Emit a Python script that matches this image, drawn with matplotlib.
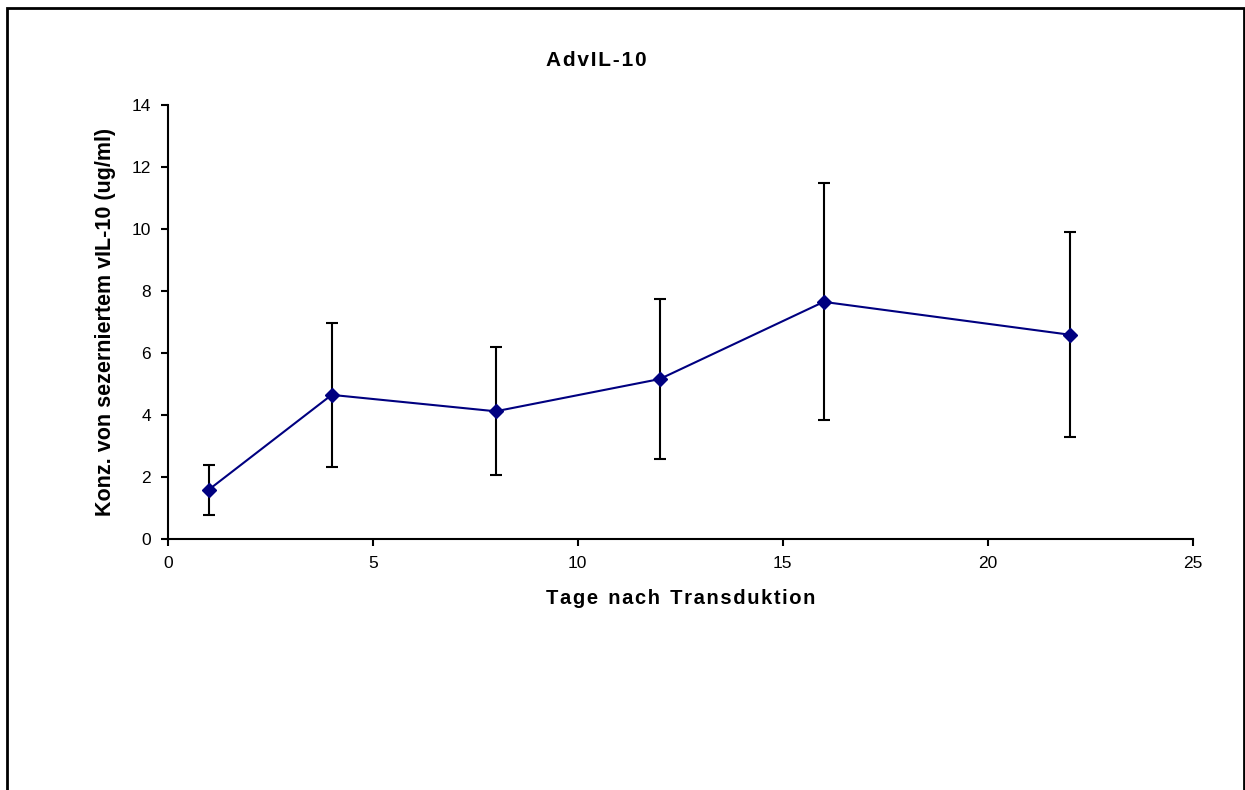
import matplotlib
matplotlib.use("Agg")
import matplotlib.pyplot as plt
from matplotlib.patches import Rectangle

plt.rcParams['font.family'] = ['Liberation Sans', 'DejaVu Sans']

# data
tage = [1, 4, 8, 12, 16, 22]
konz = [1.60, 4.66, 4.13, 5.17, 7.66, 6.60]
fehler = [0.80, 2.33, 2.06, 2.57, 3.82, 3.30]
xticks = [0, 5, 10, 15, 20, 25]
yticks = [0, 2, 4, 6, 8, 10, 12, 14]


def gesperrt(s):
    # Excel-like letter spacing
    return '\u200a'.join(s).replace('\u200a \u200a', '\u2002')


fig = plt.figure(figsize=(12.45, 7.9), dpi=100)
ax = fig.add_axes([0.1347, 0.3173, 0.8233, 0.5494])

# outer frame of the chart area (bottom runs off the picture)
fig.patches.append(Rectangle((7/1245, -0.05), 1237/1245, 1.05 - 8/790,
                             transform=fig.transFigure, fill=False,
                             edgecolor='black', linewidth=2))

ax.errorbar(tage, konz, yerr=fehler, fmt='none', ecolor='black',
            elinewidth=1.5, capsize=4.5, capthick=1.5, zorder=2)
ax.plot(tage, konz, color='#000080', linewidth=1.5, marker='D',
        markersize=7, markerfacecolor='#000080', markeredgecolor='#000080', zorder=3)

ax.set_xlim(0, 25)
ax.set_ylim(0, 14)
ax.set_xticks(xticks)
ax.set_yticks(yticks)
for s in ['top', 'right']:
    ax.spines[s].set_visible(False)
for s in ['left', 'bottom']:
    ax.spines[s].set_linewidth(1.5)
ax.tick_params(direction='out', length=5, width=1.5, labelsize=12.5, pad=7)

fig.text(596/1245, 1 - 61/790, gesperrt('AdvIL-10'), fontsize=15,
         fontweight='bold', ha='center', va='center')
ax.set_xlabel(gesperrt('Tage nach Transduktion'), fontsize=14.5,
              fontweight='bold', labelpad=13)
ax.set_ylabel('Konz. von sezerniertem vIL-10 (ug/ml)', fontsize=15.5,
              fontweight='bold', labelpad=11)

fig.savefig('out.png', dpi=100)
